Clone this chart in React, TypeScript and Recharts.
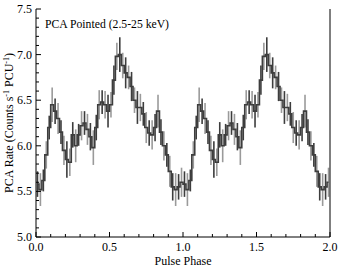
import { ComposedChart, Line, XAxis, YAxis, ErrorBar, Label } from 'recharts';

// one pulse cycle, 50 phase bins (bin centres)
const PHASE = [
  0.01, 0.03, 0.05, 0.07, 0.09, 0.11, 0.13, 0.15, 0.17, 0.19,
  0.21, 0.23, 0.25, 0.27, 0.29, 0.31, 0.33, 0.35, 0.37, 0.39,
  0.41, 0.43, 0.45, 0.47, 0.49, 0.51, 0.53, 0.55, 0.57, 0.59,
  0.61, 0.63, 0.65, 0.67, 0.69, 0.71, 0.73, 0.75, 0.77, 0.79,
  0.81, 0.83, 0.85, 0.87, 0.89, 0.91, 0.93, 0.95, 0.97, 0.99,
];
const RATE = [
  5.58, 5.52, 5.62, 5.9, 6.2, 6.45, 6.38, 6.3, 6.15, 5.95,
  5.85, 5.82, 6.12, 6.0, 6.12, 6.22, 6.25, 6.18, 6.1, 5.98,
  6.2, 6.45, 6.48, 6.45, 6.38, 6.45, 6.72, 6.98, 7.0, 6.88,
  6.8, 6.75, 6.65, 6.5, 6.42, 6.42, 6.35, 6.2, 6.14, 6.12,
  6.2, 6.38, 6.15, 6.0, 5.9, 5.72, 5.55, 5.52, 5.55, 5.6,
];
const ERR = [
  0.14, 0.18, 0.12, 0.15, 0.13, 0.19, 0.14, 0.17, 0.13, 0.16,
  0.2, 0.15, 0.14, 0.18, 0.12, 0.16, 0.13, 0.17, 0.15, 0.19,
  0.14, 0.16, 0.13, 0.15, 0.18, 0.14, 0.16, 0.15, 0.19, 0.14,
  0.17, 0.13, 0.16, 0.14, 0.18, 0.15, 0.13, 0.17, 0.14, 0.16,
  0.15, 0.18, 0.14, 0.16, 0.13, 0.17, 0.15, 0.18, 0.14, 0.16,
];
const CYCLES = [0, 1];

const X_TICKS = [
  0, 0.1, 0.2, 0.3, 0.4, 0.5, 0.6, 0.7, 0.8, 0.9, 1.0,
  1.1, 1.2, 1.3, 1.4, 1.5, 1.6, 1.7, 1.8, 1.9, 2.0,
];
const Y_TICKS = [
  5.0, 5.1, 5.2, 5.3, 5.4, 5.5, 5.6, 5.7, 5.8, 5.9, 6.0, 6.1, 6.2,
  6.3, 6.4, 6.5, 6.6, 6.7, 6.8, 6.9, 7.0, 7.1, 7.2, 7.3, 7.4, 7.5,
];

const data = CYCLES.flatMap((c) =>
  PHASE.map((p, i) => ({
    phase: p + c,
    rate: RATE[i],
    errDark: i % 2 === 0 ? ERR[i] : 0,
    errLight: i % 2 === 1 ? ERR[i] : 0,
  }))
);

const FONT = '"Liberation Serif", "DejaVu Serif", serif';
const DARK = '#3d3d3d';
const LIGHT = '#9a9a9a';

const isMajor = (v: number) => Math.abs(v * 2 - Math.round(v * 2)) < 1e-6;

function BottomTick({ x, y, payload }: any) {
  const v = payload.value;
  const major = isMajor(v);
  return (
    <g>
      <line x1={x} x2={x} y1={y} y2={y - (major ? 5 : 3)} stroke="#000" />
      {major && (
        <text x={x} y={y + 14} textAnchor="middle" fontSize={12} fontFamily={FONT} fill="#000">
          {v.toFixed(1)}
        </text>
      )}
    </g>
  );
}

function TopTick({ x, y, payload }: any) {
  const major = isMajor(payload.value);
  return <line x1={x} x2={x} y1={y} y2={y + (major ? 5 : 3)} stroke="#000" />;
}

function LeftTick({ x, y, payload }: any) {
  const v = payload.value;
  const major = isMajor(v);
  return (
    <g>
      <line x1={x} x2={x + (major ? 5 : 3)} y1={y} y2={y} stroke="#000" />
      {major && (
        <text x={x - 4} y={y + 4} textAnchor="end" fontSize={12} fontFamily={FONT} fill="#000">
          {v.toFixed(1)}
        </text>
      )}
    </g>
  );
}

function RightTick({ x, y, payload }: any) {
  const major = isMajor(payload.value);
  return <line x1={x} x2={x - (major ? 5 : 3)} y1={y} y2={y} stroke="#000" />;
}

function YTitle() {
  return (
    <text
      transform="translate(13, 123) rotate(-90)"
      textAnchor="middle"
      fontSize={12}
      fontFamily={FONT}
      fill="#000"
    >
      PCA Rate (Counts s
      <tspan dy={-4} fontSize={8}>-1</tspan>
      <tspan dy={4}> PCU</tspan>
      <tspan dy={-4} fontSize={8}>-1</tspan>
      <tspan dy={4}>)</tspan>
    </text>
  );
}

export default function App() {
  return (
    <div style={{ position: 'absolute', left: 0, top: 0, width: 342, height: 270 }}>
      <ComposedChart
        width={342}
        height={270}
        data={data}
        margin={{ top: 9, right: 11, bottom: 0, left: 0 }}
      >
        <XAxis
          dataKey="phase"
          type="number"
          domain={[0, 2]}
          ticks={X_TICKS}
          interval={0}
          height={33}
          tickSize={0}
          tickMargin={0}
          tickLine={false}
          axisLine={{ stroke: '#000' }}
          tick={<BottomTick />}
        >
          <Label value="Pulse Phase" position="insideBottom" offset={5} fontSize={12} fontFamily={FONT} fill="#000" />
        </XAxis>
        <XAxis
          xAxisId="top"
          orientation="top"
          dataKey="phase"
          type="number"
          domain={[0, 2]}
          ticks={X_TICKS}
          interval={0}
          height={0}
          tickSize={0}
          tickMargin={0}
          tickLine={false}
          axisLine={{ stroke: '#000' }}
          tick={<TopTick />}
        />
        <YAxis
          type="number"
          domain={[5, 7.5]}
          ticks={Y_TICKS}
          interval={0}
          width={36}
          tickSize={0}
          tickMargin={0}
          tickLine={false}
          axisLine={{ stroke: '#000' }}
          tick={<LeftTick />}
        >
          <Label content={<YTitle />} />
        </YAxis>
        <YAxis
          yAxisId="right"
          orientation="right"
          type="number"
          domain={[5, 7.5]}
          ticks={Y_TICKS}
          interval={0}
          width={1}
          tickSize={0}
          tickMargin={0}
          tickLine={false}
          axisLine={{ stroke: '#000' }}
          tick={<RightTick />}
        />
        <Line
          dataKey="rate"
          type="step"
          stroke="none"
          dot={false}
          isAnimationActive={false}
        >
          <ErrorBar dataKey="errLight" width={0} stroke={LIGHT} strokeWidth={1.6} direction="y" />
        </Line>
        <Line
          dataKey="rate"
          type="step"
          stroke={DARK}
          strokeWidth={1.6}
          dot={false}
          isAnimationActive={false}
        >
          <ErrorBar dataKey="errDark" width={0} stroke={DARK} strokeWidth={1.6} direction="y" />
        </Line>
      </ComposedChart>
      <div
        style={{
          position: 'absolute',
          left: 45,
          top: 18,
          fontFamily: FONT,
          fontSize: 11.7,
          color: '#000',
          lineHeight: '13px',
          whiteSpace: 'nowrap',
        }}
      >
        PCA Pointed (2.5-25 keV)
      </div>
    </div>
  );
}
